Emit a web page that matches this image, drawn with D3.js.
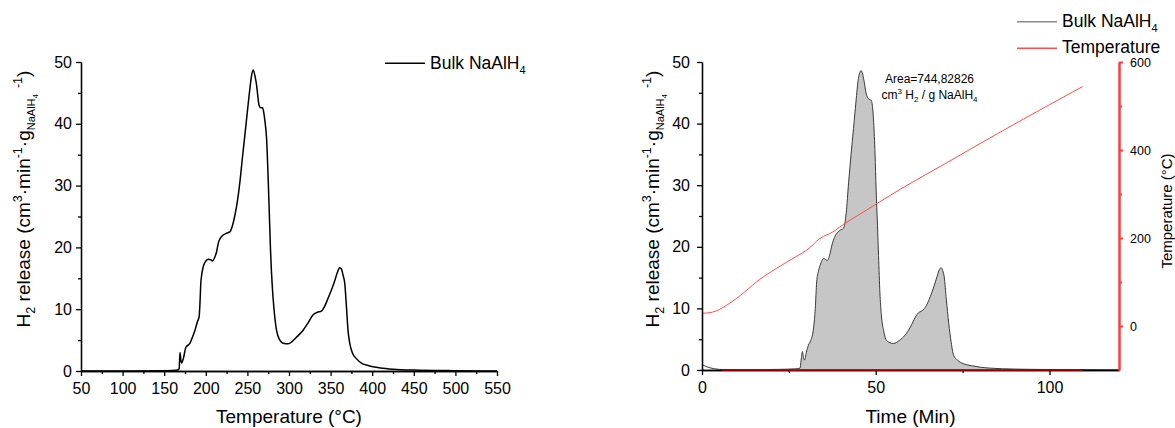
<!DOCTYPE html>
<html>
<head>
<meta charset="utf-8">
<script src="https://cdn.jsdelivr.net/npm/d3@7"></script>
<style>
  body { margin: 0; background: #fff; }
  svg { font-family: Arial, "Liberation Sans", sans-serif; }
  .axis path, .axis line { stroke: #000; stroke-width: 1.3; }
  .axis text { fill: #000; }
</style>
</head>
<body>
<div id="chart-area"></div>
<script>
// left panel: H2 release vs temperature
const tempC = [50, 100, 150, 160, 166, 168, 169, 170, 171, 173, 176, 181, 184, 187, 190, 192, 193, 194, 195, 197, 200, 203, 206, 208, 211, 213, 215, 218, 221, 225, 229, 232, 235, 238, 241, 244, 247, 250, 253, 255, 257, 259, 261, 262.5, 264, 266, 268, 269, 271, 273, 275, 276, 278, 280, 282, 285, 289, 293, 299, 304, 310, 317, 323, 329, 334, 339, 343, 347, 351, 355, 358, 361, 363, 365, 367, 369, 371, 373, 376, 381, 388, 395, 401, 410, 425, 450, 500, 550];
const releaseByTemp = [0, 0, 0.05, 0.08, 0.15, 0.4, 3.0, 1.8, 1.3, 2.0, 3.8, 4.5, 5.5, 6.6, 8.0, 8.8, 11, 14.2, 15.5, 16.9, 17.8, 18.1, 18.0, 17.8, 18.5, 19.3, 20.7, 21.6, 22.0, 22.3, 22.5, 23.5, 25.2, 27.5, 30.6, 34.5, 38.2, 42, 45.7, 47.8, 48.7, 47.8, 46.3, 44.5, 43.0, 42.6, 42.6, 42.3, 40.5, 37.7, 31, 26.9, 18.8, 13.5, 10, 6.6, 5.0, 4.5, 4.4, 4.8, 5.6, 6.6, 7.8, 9.1, 9.5, 9.7, 10.5, 11.8, 13.1, 14.6, 15.9, 16.7, 16.5, 15.5, 14.2, 10.5, 6.5, 4.5, 3.0, 2.0, 1.2, 0.9, 0.7, 0.5, 0.3, 0.15, 0.05, 0];

// right panel: H2 release vs time, and the temperature ramp
const timeMin = [0, 1, 2, 3.5, 5, 8, 15, 22, 27, 28.2, 28.6, 28.9, 29.2, 29.5, 30, 30.6, 31.3, 32.1, 32.6, 33.0, 33.5, 34.0, 35.0, 36.1, 36.8, 37.4, 38.1, 38.8, 39.8, 40.7, 41.5, 42.2, 42.9, 43.6, 44.3, 45.0, 45.8, 46.7, 47.2, 47.6, 48.2, 48.7, 49.1, 49.4, 49.8, 50.1, 50.5, 50.8, 51.2, 51.6, 52.3, 52.9, 53.8, 55.1, 56.8, 58.5, 60, 61.4, 62.3, 63.3, 64.5, 65.7, 66.7, 67.6, 68.3, 68.8, 69.3, 69.7, 70.3, 71.0, 71.7, 72.4, 73.5, 75.3, 77.5, 80.1, 83, 90, 100, 110, 120];
const releaseByTime = [0.9, 0.6, 0.4, 0.2, 0.1, 0.05, 0.05, 0.1, 0.2, 0.3, 2.0, 3.0, 2.0, 1.6, 2.8, 4.0, 4.8, 6.8, 10, 14.3, 16, 17.0, 18.1, 17.8, 18.8, 20.3, 21.5, 22.2, 22.7, 23.0, 25.5, 30.5, 35, 39.2, 43.5, 47.3, 48.6, 46.7, 45, 44.3, 43.9, 43.8, 42.5, 40.2, 35, 29.4, 23.5, 18.6, 12.5, 9.0, 6.3, 5.0, 4.5, 4.3, 4.8, 5.7, 7.0, 8.6, 9.3, 9.6, 10.4, 11.9, 13.5, 15.1, 16.3, 16.6, 16.1, 15.1, 11.5, 7.6, 4.5, 2.4, 1.6, 1.0, 0.7, 0.45, 0.3, 0.15, 0.08, 0.05, 0.03];
const rampTime = [0, 2, 4, 6, 8, 10, 13.4, 15.8, 20, 25.4, 31.6, 33, 38.3, 40.7, 45, 57.1, 70, 85, 100, 109.5];
const rampTemp = [29, 30, 34, 42, 52, 63, 85, 101, 124, 150, 182, 193, 217, 231, 252, 311, 369, 437, 503, 544];
const integrationRange = [28.2, 109.5];
const baselineRange = [5.7, 109.5];

// ticks
const tempMajor = [50, 100, 150, 200, 250, 300, 350, 400, 450, 500, 550];
const tempMinor = [75, 125, 175, 225, 275, 325, 375, 425, 475, 525];
const releaseMajor = [0, 10, 20, 30, 40, 50];
const releaseMinor = [5, 15, 25, 35, 45];
const timeMajor = [0, 50, 100];
const timeMinor = [25, 75];
const rampMajor = [0, 200, 400, 600];
const rampMinor = [100, 300, 500];

const areaText = "Area=744,82826";

const svg = d3
  .select("#chart-area")
  .append("svg")
  .attr("width", 1175)
  .attr("height", 428);

// rich text with sub / superscripts: parts = [text, shift, size]
const richText = (sel, parts) => {
  let prev = 0;
  parts.forEach(([t, shift, size]) => {
    sel
      .append("tspan")
      .attr("dy", shift - prev)
      .attr("font-size", size)
      .text(t);
    prev = shift;
  });
  return sel;
};

const yTitleParts = [
  ["H", 0, 19],
  ["2", 5, 12.5],
  [" release (cm", 0, 19],
  ["3", -8, 12.5],
  ["\u00b7min", 0, 19],
  ["-1", -8, 12.5],
  ["\u00b7g", 0, 19],
  ["NaAlH", 5, 11],
  ["4", 8, 8],
  ["\u2009 -1", -8, 12.5],
  [")", 0, 19]
];

const drawAxis = (g, axis, transform, size) =>
  g
    .append("g")
    .attr("class", "axis")
    .attr("transform", transform)
    .call(axis)
    .attr("font-size", size)
    .attr("font-family", null);

// ---------- left panel ----------
const xL = d3.scaleLinear().domain([50, 550]).range([81, 497]);
const yL = d3.scaleLinear().domain([0, 50]).range([371, 62]);
const left = svg.append("g");

const leftPts = tempC.map((t, i) => [t, releaseByTemp[i]]);
left
  .append("path")
  .datum(leftPts)
  .attr("fill", "none")
  .attr("stroke", "#000")
  .attr("stroke-width", 1.5)
  .attr("d", d3.line().x(d => xL(d[0])).y(d => yL(d[1])).curve(d3.curveMonotoneX));

drawAxis(left, d3.axisBottom(xL).tickValues(tempMinor).tickSize(3).tickSizeOuter(0).tickFormat(""), `translate(0,${yL(0)})`, 16);
drawAxis(left, d3.axisBottom(xL).tickValues(tempMajor).tickSize(5).tickSizeOuter(0).tickPadding(7), `translate(0,${yL(0)})`, 16);
drawAxis(left, d3.axisLeft(yL).tickValues(releaseMinor).tickSize(3).tickSizeOuter(0).tickFormat(""), `translate(${xL(50)},0)`, 16);
drawAxis(left, d3.axisLeft(yL).tickValues(releaseMajor).tickSize(5).tickSizeOuter(0).tickPadding(4), `translate(${xL(50)},0)`, 16);

left
  .append("text")
  .attr("x", 289)
  .attr("y", 423)
  .attr("text-anchor", "middle")
  .attr("font-size", 19)
  .text("Temperature (\u00b0C)");

richText(
  left
    .append("text")
    .attr("transform", "translate(29.5,199) rotate(-90)")
    .attr("text-anchor", "middle"),
  yTitleParts
);

left
  .append("line")
  .attr("x1", 385)
  .attr("x2", 425)
  .attr("y1", 63.3)
  .attr("y2", 63.3)
  .attr("stroke", "#000")
  .attr("stroke-width", 1.5);
richText(
  left.append("text").attr("x", 430).attr("y", 69),
  [["Bulk NaAlH", 0, 17.5], ["4", 5, 11]]
);

// ---------- right panel ----------
const xR = d3.scaleLinear().domain([0, 120]).range([702, 1119]);
const yR = d3.scaleLinear().domain([0, 50]).range([370, 62]);
const yT = d3.scaleLinear().domain([-100, 600]).range([370, 62]);
const right = svg.append("g");

const rightPts = timeMin.map((t, i) => [t, releaseByTime[i]]);
const filled = rightPts.filter(d => d[0] >= integrationRange[0] && d[0] <= integrationRange[1]);

right
  .append("path")
  .datum(filled)
  .attr("fill", "#c6c6c6")
  .attr("d", d3.area().x(d => xR(d[0])).y0(yR(0)).y1(d => yR(d[1])).curve(d3.curveMonotoneX));

right
  .append("path")
  .datum(rightPts)
  .attr("fill", "none")
  .attr("stroke", "#3a3a3a")
  .attr("stroke-width", 1)
  .attr("d", d3.line().x(d => xR(d[0])).y(d => yR(d[1])).curve(d3.curveMonotoneX));

const rampPts = rampTime.map((t, i) => [t, rampTemp[i]]);
right
  .append("path")
  .datum(rampPts)
  .attr("fill", "none")
  .attr("stroke", "#ff4d4d")
  .attr("stroke-width", 1)
  .attr("d", d3.line().x(d => xR(d[0])).y(d => yT(d[1])).curve(d3.curveMonotoneX));

drawAxis(right, d3.axisBottom(xR).tickValues(timeMinor).tickSize(3).tickSizeOuter(0).tickFormat(""), `translate(0,${yR(0)})`, 16);
drawAxis(right, d3.axisBottom(xR).tickValues(timeMajor).tickSize(5).tickSizeOuter(0).tickPadding(7), `translate(0,${yR(0)})`, 16);
drawAxis(right, d3.axisLeft(yR).tickValues(releaseMinor).tickSize(3).tickSizeOuter(0).tickFormat(""), `translate(${xR(0)},0)`, 16);
drawAxis(right, d3.axisLeft(yR).tickValues(releaseMajor).tickSize(5).tickSizeOuter(0).tickPadding(7), `translate(${xR(0)},0)`, 16);

right
  .append("line")
  .attr("x1", xR(baselineRange[0]))
  .attr("x2", xR(baselineRange[1]))
  .attr("y1", yR(0))
  .attr("y2", yR(0))
  .attr("stroke", "#c00000")
  .attr("stroke-width", 1.6);

const redMinor = drawAxis(right, d3.axisRight(yT).tickValues(rampMinor).tickSize(3).tickSizeOuter(0).tickFormat(""), `translate(${xR(120)},0)`, 12.5);
const redMajor = drawAxis(right, d3.axisRight(yT).tickValues(rampMajor).tickSize(4).tickSizeOuter(0).tickPadding(7), `translate(${xR(120)},0)`, 12.5);
[redMinor, redMajor].forEach(a => {
  a.selectAll("path, line").style("stroke", "#ff3b3b").style("stroke-width", 2);
});

right
  .append("text")
  .attr("x", 910.5)
  .attr("y", 423)
  .attr("text-anchor", "middle")
  .attr("font-size", 19)
  .text("Time (Min)");

richText(
  right
    .append("text")
    .attr("transform", "translate(658.5,199) rotate(-90)")
    .attr("text-anchor", "middle"),
  yTitleParts
);

right
  .append("text")
  .attr("transform", "translate(1172,211) rotate(-90)")
  .attr("text-anchor", "middle")
  .attr("font-size", 15)
  .text("Temperature (\u00b0C)");

right
  .append("text")
  .attr("x", 929.5)
  .attr("y", 83.3)
  .attr("text-anchor", "middle")
  .attr("font-size", 12)
  .text(areaText);
richText(
  right.append("text").attr("x", 929.5).attr("y", 99).attr("text-anchor", "middle"),
  [["cm", 0, 12], ["3", -5, 8], [" H", 0, 12], ["2", 3, 8], [" / g NaAlH", 0, 12], ["4", 3, 8]]
);

// legend
right
  .append("line")
  .attr("x1", 1017)
  .attr("x2", 1057)
  .attr("y1", 21.7)
  .attr("y2", 21.7)
  .attr("stroke", "#8c8c8c")
  .attr("stroke-width", 1.5);
richText(
  right.append("text").attr("x", 1062).attr("y", 27.3),
  [["Bulk NaAlH", 0, 17.5], ["4", 5, 11]]
);
right
  .append("line")
  .attr("x1", 1017)
  .attr("x2", 1057)
  .attr("y1", 48.2)
  .attr("y2", 48.2)
  .attr("stroke", "#ff4d4d")
  .attr("stroke-width", 1.5);
right
  .append("text")
  .attr("x", 1062)
  .attr("y", 53)
  .attr("font-size", 17.5)
  .text("Temperature");
</script>
</body>
</html>
